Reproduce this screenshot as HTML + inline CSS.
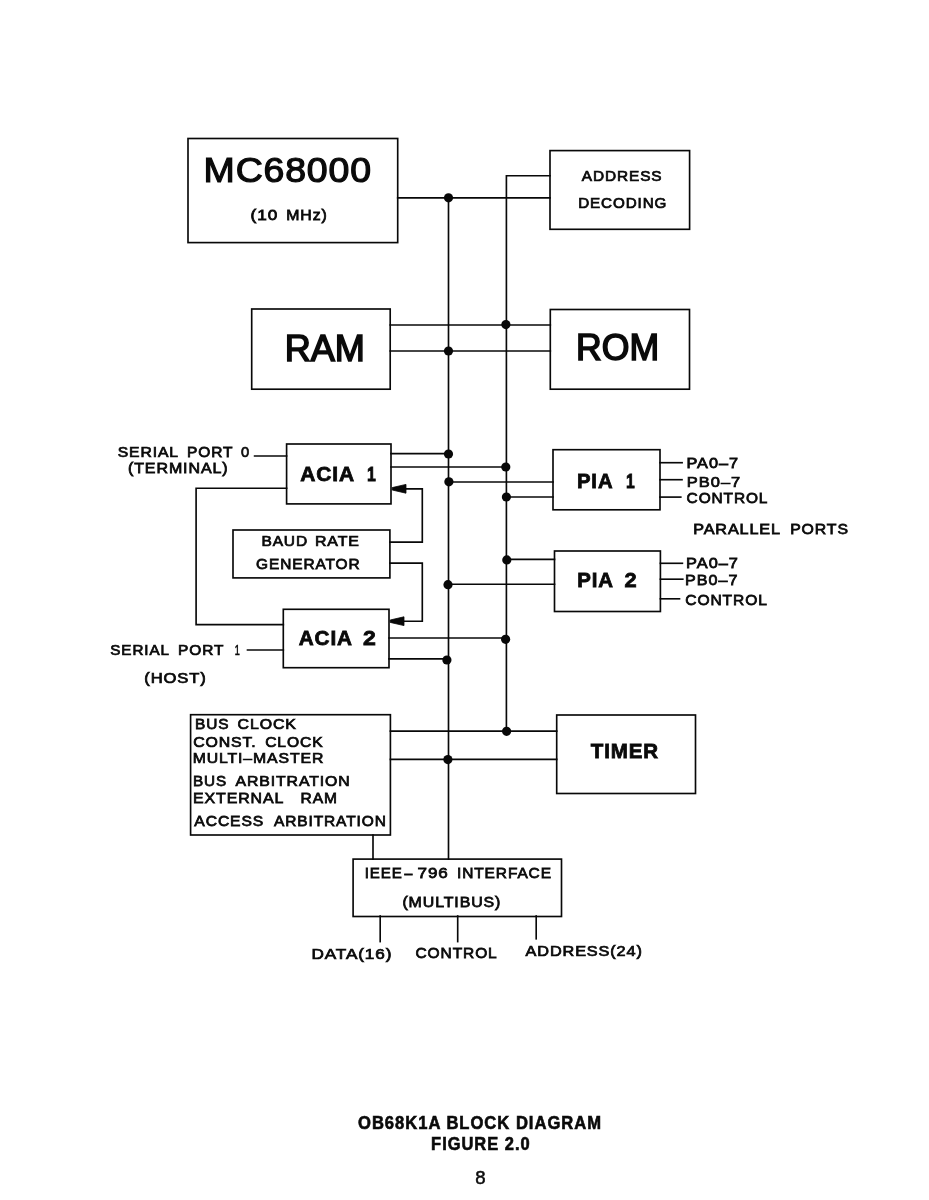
<!DOCTYPE html>
<html><head><meta charset="utf-8"><style>
html,body{margin:0;padding:0;background:#fff;}
body{width:929px;height:1200px;overflow:hidden;}
svg{display:block;will-change:transform;}
text{font-family:"Liberation Sans",sans-serif;fill:#0a0a0a;}
</style></head><body>
<svg width="929" height="1200" viewBox="0 0 929 1200">
<rect x="188.0" y="138.5" width="209.7" height="104.1" fill="none" stroke="#080808" stroke-width="1.65"/>
<rect x="550.0" y="150.6" width="139.6" height="78.7" fill="none" stroke="#080808" stroke-width="1.65"/>
<rect x="251.7" y="309.0" width="138.5" height="80.2" fill="none" stroke="#080808" stroke-width="1.65"/>
<rect x="550.3" y="309.5" width="139.2" height="79.7" fill="none" stroke="#080808" stroke-width="1.65"/>
<rect x="286.6" y="444.0" width="104.4" height="59.9" fill="none" stroke="#080808" stroke-width="1.65"/>
<rect x="233.0" y="530.0" width="156.9" height="47.9" fill="none" stroke="#080808" stroke-width="1.65"/>
<rect x="283.3" y="609.3" width="105.7" height="58.4" fill="none" stroke="#080808" stroke-width="1.65"/>
<rect x="553.0" y="449.7" width="107.0" height="60.1" fill="none" stroke="#080808" stroke-width="1.65"/>
<rect x="554.5" y="551.0" width="105.9" height="60.5" fill="none" stroke="#080808" stroke-width="1.65"/>
<rect x="190.6" y="714.7" width="199.8" height="120.3" fill="none" stroke="#080808" stroke-width="1.65"/>
<rect x="556.7" y="715.0" width="138.8" height="78.5" fill="none" stroke="#080808" stroke-width="1.65"/>
<rect x="353.1" y="859.1" width="208.4" height="57.4" fill="none" stroke="#080808" stroke-width="1.65"/>
<path d="M448.5 197.8 L448.5 859.1" fill="none" stroke="#080808" stroke-width="1.65" stroke-linecap="square"/>
<path d="M550.0 175.7 L506.4 175.7 L506.4 731.3" fill="none" stroke="#080808" stroke-width="1.65" stroke-linecap="square"/>
<path d="M397.7 197.8 L550.0 197.8" fill="none" stroke="#080808" stroke-width="1.65" stroke-linecap="square"/>
<circle cx="448.5" cy="197.8" r="4.6" fill="#080808"/>
<path d="M390.2 325.0 L550.3 325.0" fill="none" stroke="#080808" stroke-width="1.65" stroke-linecap="square"/>
<circle cx="505.9" cy="324.6" r="4.6" fill="#080808"/>
<path d="M390.2 351.0 L550.3 351.0" fill="none" stroke="#080808" stroke-width="1.65" stroke-linecap="square"/>
<circle cx="448.5" cy="351.0" r="4.6" fill="#080808"/>
<path d="M391.0 453.6 L448.5 453.6" fill="none" stroke="#080808" stroke-width="1.65" stroke-linecap="square"/>
<circle cx="448.5" cy="454.0" r="4.6" fill="#080808"/>
<path d="M391.0 467.0 L506.4 467.0" fill="none" stroke="#080808" stroke-width="1.65" stroke-linecap="square"/>
<circle cx="505.8" cy="467.0" r="4.6" fill="#080808"/>
<path d="M448.5 482.0 L553.0 482.0" fill="none" stroke="#080808" stroke-width="1.65" stroke-linecap="square"/>
<circle cx="448.9" cy="481.8" r="4.6" fill="#080808"/>
<path d="M506.4 497.0 L553.0 497.0" fill="none" stroke="#080808" stroke-width="1.65" stroke-linecap="square"/>
<circle cx="506.4" cy="497.0" r="4.6" fill="#080808"/>
<path d="M506.4 559.3 L554.5 559.3" fill="none" stroke="#080808" stroke-width="1.65" stroke-linecap="square"/>
<circle cx="506.8" cy="559.9" r="4.6" fill="#080808"/>
<path d="M448.5 584.2 L554.5 584.2" fill="none" stroke="#080808" stroke-width="1.65" stroke-linecap="square"/>
<circle cx="448.0" cy="584.7" r="4.6" fill="#080808"/>
<path d="M389.0 638.0 L506.4 638.0" fill="none" stroke="#080808" stroke-width="1.65" stroke-linecap="square"/>
<circle cx="505.6" cy="639.3" r="4.6" fill="#080808"/>
<path d="M389.0 658.8 L448.5 658.8" fill="none" stroke="#080808" stroke-width="1.65" stroke-linecap="square"/>
<circle cx="446.9" cy="660.0" r="4.6" fill="#080808"/>
<path d="M390.4 731.1 L556.7 731.1" fill="none" stroke="#080808" stroke-width="1.65" stroke-linecap="square"/>
<circle cx="506.6" cy="731.3" r="4.6" fill="#080808"/>
<path d="M390.4 759.4 L556.7 759.4" fill="none" stroke="#080808" stroke-width="1.65" stroke-linecap="square"/>
<circle cx="447.9" cy="759.6" r="4.6" fill="#080808"/>
<path d="M254.6 456.0 L286.6 456.0" fill="none" stroke="#080808" stroke-width="1.65" stroke-linecap="square"/>
<path d="M286.6 488.2 L196.1 488.2 L196.1 624.6 L283.3 624.6" fill="none" stroke="#080808" stroke-width="1.65" stroke-linecap="square"/>
<path d="M247.5 650.0 L283.3 650.0" fill="none" stroke="#080808" stroke-width="1.65" stroke-linecap="square"/>
<path d="M389.9 542.1 L422.3 542.1 L422.3 488.8 L404.0 488.8" fill="none" stroke="#080808" stroke-width="1.65" stroke-linecap="square"/>
<path d="M392.2 487.6 L406.0 484.4 L406.0 493.2 L392.2 490.0 Z" fill="#080808" stroke="#080808" stroke-width="0.8" stroke-linejoin="round"/>
<path d="M389.9 563.1 L422.3 563.1 L422.3 621.2 L402.0 621.2" fill="none" stroke="#080808" stroke-width="1.65" stroke-linecap="square"/>
<path d="M390.2 620.0 L404.0 616.8 L404.0 625.6 L390.2 622.4 Z" fill="#080808" stroke="#080808" stroke-width="0.8" stroke-linejoin="round"/>
<path d="M660.0 462.7 L682.1 462.7" fill="none" stroke="#080808" stroke-width="1.65" stroke-linecap="square"/>
<path d="M660.0 479.7 L682.0 479.7" fill="none" stroke="#080808" stroke-width="1.65" stroke-linecap="square"/>
<path d="M660.0 497.1 L680.8 497.1" fill="none" stroke="#080808" stroke-width="1.65" stroke-linecap="square"/>
<path d="M660.4 563.3 L682.4 563.3" fill="none" stroke="#080808" stroke-width="1.65" stroke-linecap="square"/>
<path d="M660.4 579.2 L682.8 579.2" fill="none" stroke="#080808" stroke-width="1.65" stroke-linecap="square"/>
<path d="M660.4 598.8 L679.5 598.8" fill="none" stroke="#080808" stroke-width="1.65" stroke-linecap="square"/>
<path d="M373.0 835.0 L373.0 859.1" fill="none" stroke="#080808" stroke-width="1.65" stroke-linecap="square"/>
<path d="M380.2 916.0 L380.2 941.6" fill="none" stroke="#080808" stroke-width="1.65" stroke-linecap="square"/>
<path d="M457.7 916.0 L457.7 941.6" fill="none" stroke="#080808" stroke-width="1.65" stroke-linecap="square"/>
<path d="M536.2 916.0 L536.2 938.8" fill="none" stroke="#080808" stroke-width="1.65" stroke-linecap="square"/>
<text transform="translate(203.62 182.40) scale(1.0730 1)" font-size="34.96" letter-spacing="0.746" font-weight="normal" stroke="#0a0a0a" stroke-width="1.20">MC68000</text>
<text transform="translate(250.61 220.38) scale(1.1789 1)" font-size="14.61" letter-spacing="0.763" font-weight="normal" stroke="#0a0a0a" stroke-width="0.75">(10</text>
<text transform="translate(286.28 220.38) scale(1.0844 1)" font-size="14.61" letter-spacing="0.830" font-weight="normal" stroke="#0a0a0a" stroke-width="0.75">MHz)</text>
<text transform="translate(581.84 180.62) scale(1.0533 1)" font-size="14.61" letter-spacing="0.854" font-weight="normal" stroke="#0a0a0a" stroke-width="0.75">ADDRESS</text>
<text transform="translate(578.13 208.47) scale(1.0408 1)" font-size="14.61" letter-spacing="0.865" font-weight="normal" stroke="#0a0a0a" stroke-width="0.75">DECODING</text>
<text transform="translate(284.63 360.80) scale(0.9640 1)" font-size="37.50" letter-spacing="0.000" font-weight="normal" stroke="#0a0a0a" stroke-width="1.60">RAM</text>
<text transform="translate(576.08 360.30) scale(0.9769 1)" font-size="36.48" letter-spacing="0.000" font-weight="normal" stroke="#0a0a0a" stroke-width="1.60">ROM</text>
<text transform="translate(117.76 456.92) scale(1.0735 1)" font-size="14.61" letter-spacing="0.838" font-weight="normal" stroke="#0a0a0a" stroke-width="0.75">SERIAL</text>
<text transform="translate(187.00 456.92) scale(1.0616 1)" font-size="14.61" letter-spacing="0.848" font-weight="normal" stroke="#0a0a0a" stroke-width="0.75">PORT</text>
<text x="240.98" y="456.95" font-size="14.68" letter-spacing="0.000" font-weight="normal" stroke="#0a0a0a" stroke-width="0.70">0</text>
<text transform="translate(127.98 473.32) scale(1.0951 1)" font-size="14.61" letter-spacing="0.822" font-weight="normal" stroke="#0a0a0a" stroke-width="0.75">(TERMINAL)</text>
<text x="300.18" y="480.60" font-size="20.93" letter-spacing="0.900" font-weight="bold" stroke="#0a0a0a" stroke-width="0.80">ACIA</text>
<text transform="translate(367.10 480.60) scale(0.7598 1)" font-size="20.93" letter-spacing="0.000" font-weight="bold" stroke="#0a0a0a" stroke-width="0.80">1</text>
<text transform="translate(261.40 546.17) scale(1.0611 1)" font-size="14.61" letter-spacing="0.848" font-weight="normal" stroke="#0a0a0a" stroke-width="0.75">BAUD</text>
<text transform="translate(314.97 546.17) scale(1.0893 1)" font-size="14.61" letter-spacing="0.826" font-weight="normal" stroke="#0a0a0a" stroke-width="0.75">RATE</text>
<text transform="translate(256.10 568.62) scale(1.0575 1)" font-size="14.61" letter-spacing="0.851" font-weight="normal" stroke="#0a0a0a" stroke-width="0.75">GENERATOR</text>
<text transform="translate(298.68 645.25) scale(0.9903 1)" font-size="20.93" letter-spacing="0.909" font-weight="bold" stroke="#0a0a0a" stroke-width="0.80">ACIA</text>
<text transform="translate(363.10 645.25) scale(1.1015 1)" font-size="20.93" letter-spacing="0.000" font-weight="bold" stroke="#0a0a0a" stroke-width="0.80">2</text>
<text transform="translate(110.33 654.98) scale(1.0411 1)" font-size="14.61" letter-spacing="0.865" font-weight="normal" stroke="#0a0a0a" stroke-width="0.75">SERIAL</text>
<text transform="translate(178.11 654.98) scale(1.0565 1)" font-size="14.61" letter-spacing="0.852" font-weight="normal" stroke="#0a0a0a" stroke-width="0.75">PORT</text>
<text transform="translate(234.66 655.00) scale(0.6162 1)" font-size="14.68" letter-spacing="0.000" font-weight="normal" stroke="#0a0a0a" stroke-width="0.70">1</text>
<text transform="translate(144.25 682.82) scale(1.1352 1)" font-size="14.61" letter-spacing="0.793" font-weight="normal" stroke="#0a0a0a" stroke-width="0.75">(HOST)</text>
<text transform="translate(576.94 487.75) scale(0.9685 1)" font-size="20.93" letter-spacing="0.929" font-weight="bold" stroke="#0a0a0a" stroke-width="0.80">PIA</text>
<text transform="translate(625.91 487.75) scale(0.7495 1)" font-size="20.93" letter-spacing="0.000" font-weight="bold" stroke="#0a0a0a" stroke-width="0.80">1</text>
<text transform="translate(577.14 586.85) scale(0.9745 1)" font-size="20.93" letter-spacing="0.924" font-weight="bold" stroke="#0a0a0a" stroke-width="0.80">PIA</text>
<text transform="translate(624.54 586.85) scale(1.0420 1)" font-size="20.93" letter-spacing="0.000" font-weight="bold" stroke="#0a0a0a" stroke-width="0.80">2</text>
<text transform="translate(686.44 468.17) scale(1.1151 1)" font-size="14.61" letter-spacing="0.897" font-weight="normal" stroke="#0a0a0a" stroke-width="0.75">PA0–7</text>
<text transform="translate(686.82 487.42) scale(1.1270 1)" font-size="14.61" letter-spacing="0.887" font-weight="normal" stroke="#0a0a0a" stroke-width="0.75">PB0–7</text>
<text transform="translate(686.59 502.52) scale(1.0578 1)" font-size="14.61" letter-spacing="0.851" font-weight="normal" stroke="#0a0a0a" stroke-width="0.75">CONTROL</text>
<text transform="translate(693.15 534.02) scale(1.1072 1)" font-size="14.61" letter-spacing="0.813" font-weight="normal" stroke="#0a0a0a" stroke-width="0.75">PARALLEL</text>
<text transform="translate(790.18 534.02) scale(1.0825 1)" font-size="14.61" letter-spacing="0.831" font-weight="normal" stroke="#0a0a0a" stroke-width="0.75">PORTS</text>
<text transform="translate(686.03 567.67) scale(1.1198 1)" font-size="14.61" letter-spacing="0.893" font-weight="normal" stroke="#0a0a0a" stroke-width="0.75">PA0–7</text>
<text transform="translate(685.05 585.18) scale(1.1031 1)" font-size="14.61" letter-spacing="0.907" font-weight="normal" stroke="#0a0a0a" stroke-width="0.75">PB0–7</text>
<text transform="translate(685.28 605.07) scale(1.0663 1)" font-size="14.61" letter-spacing="0.844" font-weight="normal" stroke="#0a0a0a" stroke-width="0.75">CONTROL</text>
<text transform="translate(195.01 729.32) scale(1.0562 1)" font-size="14.61" letter-spacing="0.852" font-weight="normal" stroke="#0a0a0a" stroke-width="0.75">BUS</text>
<text transform="translate(237.57 729.32) scale(1.0876 1)" font-size="14.61" letter-spacing="0.828" font-weight="normal" stroke="#0a0a0a" stroke-width="0.75">CLOCK</text>
<text transform="translate(193.17 746.82) scale(1.0855 1)" font-size="14.61" letter-spacing="0.829" font-weight="normal" stroke="#0a0a0a" stroke-width="0.75">CONST.</text>
<text transform="translate(265.18 746.82) scale(1.0693 1)" font-size="14.61" letter-spacing="0.842" font-weight="normal" stroke="#0a0a0a" stroke-width="0.75">CLOCK</text>
<text transform="translate(192.68 763.27) scale(1.0812 1)" font-size="14.61" letter-spacing="0.832" font-weight="normal" stroke="#0a0a0a" stroke-width="0.75">MULTI–MASTER</text>
<text transform="translate(192.92 785.52) scale(1.0455 1)" font-size="14.61" letter-spacing="0.861" font-weight="normal" stroke="#0a0a0a" stroke-width="0.75">BUS</text>
<text transform="translate(235.54 785.52) scale(1.0832 1)" font-size="14.61" letter-spacing="0.831" font-weight="normal" stroke="#0a0a0a" stroke-width="0.75">ARBITRATION</text>
<text transform="translate(193.07 803.07) scale(1.0903 1)" font-size="14.61" letter-spacing="0.825" font-weight="normal" stroke="#0a0a0a" stroke-width="0.75">EXTERNAL</text>
<text transform="translate(300.50 803.07) scale(1.0660 1)" font-size="14.61" letter-spacing="0.844" font-weight="normal" stroke="#0a0a0a" stroke-width="0.75">RAM</text>
<text transform="translate(194.34 825.88) scale(1.0737 1)" font-size="14.61" letter-spacing="0.838" font-weight="normal" stroke="#0a0a0a" stroke-width="0.75">ACCESS</text>
<text transform="translate(273.94 825.88) scale(1.0605 1)" font-size="14.61" letter-spacing="0.849" font-weight="normal" stroke="#0a0a0a" stroke-width="0.75">ARBITRATION</text>
<text transform="translate(590.77 757.65) scale(0.9806 1)" font-size="20.93" letter-spacing="0.918" font-weight="bold" stroke="#0a0a0a" stroke-width="0.80">TIMER</text>
<text transform="translate(364.69 878.32) scale(1.0299 1)" font-size="14.61" letter-spacing="0.874" font-weight="normal" stroke="#0a0a0a" stroke-width="0.75">IEEE</text>
<text transform="translate(404.48 878.32) scale(0.9671 1)" font-size="14.61" letter-spacing="0.000" font-weight="normal" stroke="#0a0a0a" stroke-width="0.75">–</text>
<text transform="translate(417.60 878.32) scale(1.1683 1)" font-size="14.61" letter-spacing="0.770" font-weight="normal" stroke="#0a0a0a" stroke-width="0.75">796</text>
<text transform="translate(456.95 878.32) scale(1.0599 1)" font-size="14.61" letter-spacing="0.849" font-weight="normal" stroke="#0a0a0a" stroke-width="0.75">INTERFACE</text>
<text transform="translate(402.39 906.82) scale(1.0902 1)" font-size="14.61" letter-spacing="0.826" font-weight="normal" stroke="#0a0a0a" stroke-width="0.75">(MULTIBUS)</text>
<text transform="translate(311.47 959.17) scale(1.1738 1)" font-size="14.61" letter-spacing="0.767" font-weight="normal" stroke="#0a0a0a" stroke-width="0.75">DATA(16)</text>
<text transform="translate(415.49 958.32) scale(1.0621 1)" font-size="14.61" letter-spacing="0.847" font-weight="normal" stroke="#0a0a0a" stroke-width="0.75">CONTROL</text>
<text transform="translate(525.54 955.52) scale(1.1117 1)" font-size="14.61" letter-spacing="0.810" font-weight="normal" stroke="#0a0a0a" stroke-width="0.75">ADDRESS(24)</text>
<text transform="translate(358.02 1128.60) scale(0.9503 1)" font-size="17.44" letter-spacing="1.052" font-weight="bold" stroke="#0a0a0a" stroke-width="0.60">OB68K1A BLOCK DIAGRAM</text>
<text transform="translate(431.10 1149.60) scale(0.9430 1)" font-size="17.44" letter-spacing="1.060" font-weight="bold" stroke="#0a0a0a" stroke-width="0.60">FIGURE 2.0</text>
<text x="475.14" y="1183.95" font-size="18.60" letter-spacing="0.000" font-weight="normal" stroke="#0a0a0a" stroke-width="0.50">8</text>
</svg>
</body></html>
